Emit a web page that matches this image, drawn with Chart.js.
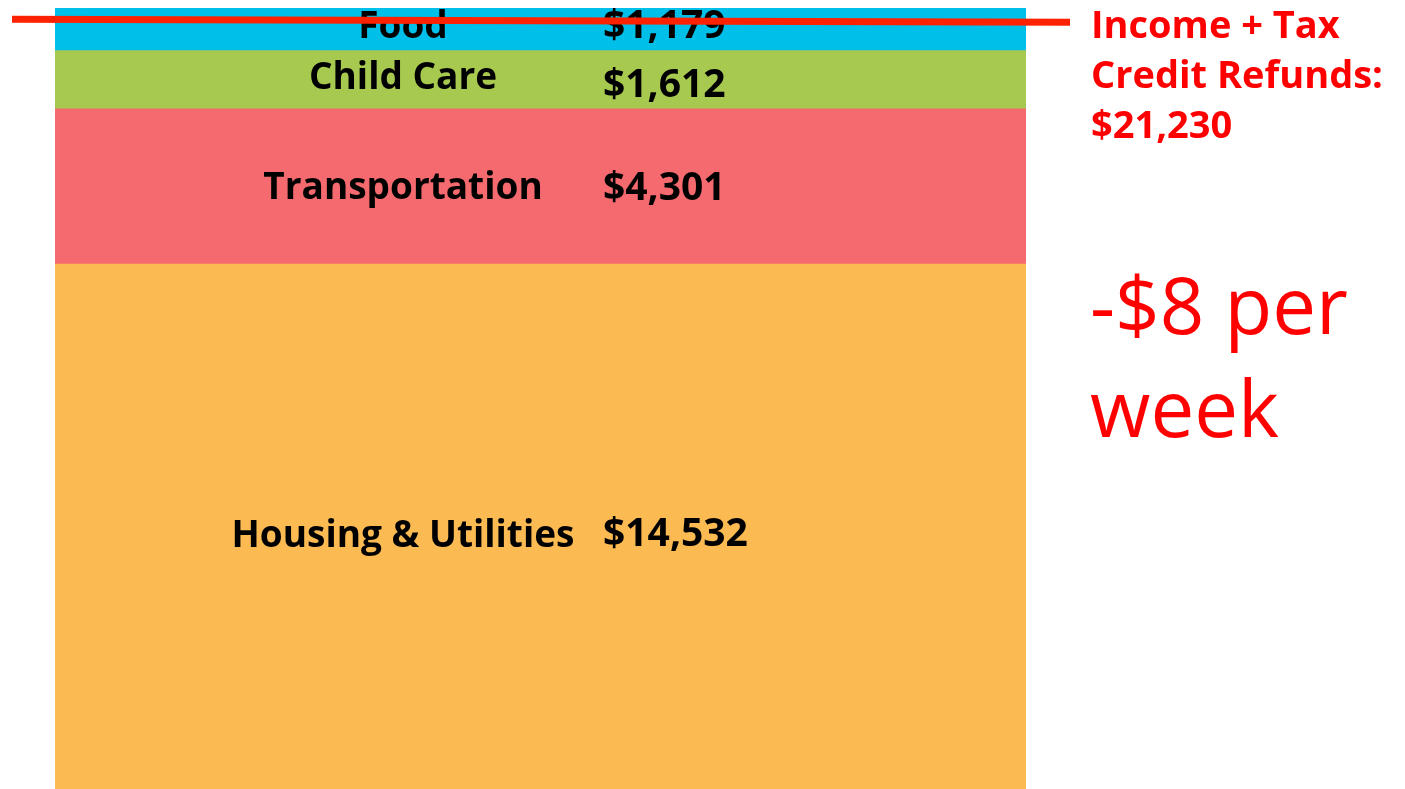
<!DOCTYPE html>
<html><head><meta charset="utf-8">
<script src="https://cdn.jsdelivr.net/npm/chart.js@4/dist/chart.umd.min.js"></script>
<style>html,body{margin:0;padding:0;background:#fff;overflow:hidden}#wrap{width:1405px;height:789px;position:relative}</style>
</head><body><div id="wrap"><canvas id="c" width="1405" height="789"></canvas></div>
<script>
const categories = ["Housing & Utilities", "Transportation", "Child Care", "Food"];
const values = [14532, 4301, 1612, 1179];
const colors = ["#FBBA52", "#F46A6E", "#A8C94F", "#00BFE9"];
const incomeLabel = ["Income + Tax", "Credit Refunds:", "$21,230"];
const incomeValue = 21230;
const weeklyLabel = ["-$8 per", "week"];

const total = values.reduce((a, b) => a + b, 0);
const fmt = v => "$" + v.toLocaleString("en-US");
const FONT = "'Open Sans'";
const labelNudge = [10, 2, -1, -2];
const valueNudge = [8, 2, 6, -2];

const datasets = categories.map((c, i) => ({
  label: c, data: [values[i]], backgroundColor: colors[i], borderWidth: 0,
  barPercentage: 1, categoryPercentage: 1
}));

const overlay = {
  id: "overlay",
  afterDatasetsDraw(chart) {
    const ctx = chart.ctx, ys = chart.scales.y, a = chart.chartArea;
    ctx.save();
    ctx.fillStyle = "#000";
    ctx.textBaseline = "middle";
    chart.data.datasets.forEach((ds, i) => {
      const bar = chart.getDatasetMeta(i).data[0];
      const yc = (bar.y + bar.base) / 2;
      ctx.font = "bold 37px " + FONT;
      ctx.textAlign = "center";
      ctx.fillText(ds.label, a.left + 348, yc + labelNudge[i]);
      ctx.textAlign = "left";
      ctx.font = "bold 39px " + FONT;
      ctx.fillText(fmt(ds.data[0]), a.left + 548, yc + valueNudge[i]);
    });
    // income line
    const yl = ys.getPixelForValue(incomeValue);
    ctx.strokeStyle = "#FF2200";
    ctx.lineWidth = 7;
    ctx.beginPath();
    ctx.moveTo(a.left - 43, yl - 3);
    ctx.lineTo(a.right + 44, yl);
    ctx.stroke();
    ctx.fillStyle = "#FF0000";
    ctx.textAlign = "left";
    ctx.font = "bold 38px " + FONT;
    incomeLabel.forEach((t, k) => ctx.fillText(t, a.right + 65, 27 + k * 50));
    ctx.font = "78px " + FONT;
    weeklyLabel.forEach((t, k) => ctx.fillText(t, a.right + 64, 312 + k * 103));
    ctx.restore();
  }
};

new Chart(document.getElementById("c"), {
  type: "bar",
  data: { labels: [""], datasets },
  options: {
    responsive: false, animation: false,
    layout: { padding: { left: 55, right: 379, top: 8, bottom: 0 } },
    plugins: { legend: { display: false }, tooltip: { enabled: false } },
    scales: {
      x: { display: false, stacked: true },
      y: { display: false, stacked: true, min: 0, max: total }
    }
  },
  plugins: [overlay]
});
</script></body></html>
